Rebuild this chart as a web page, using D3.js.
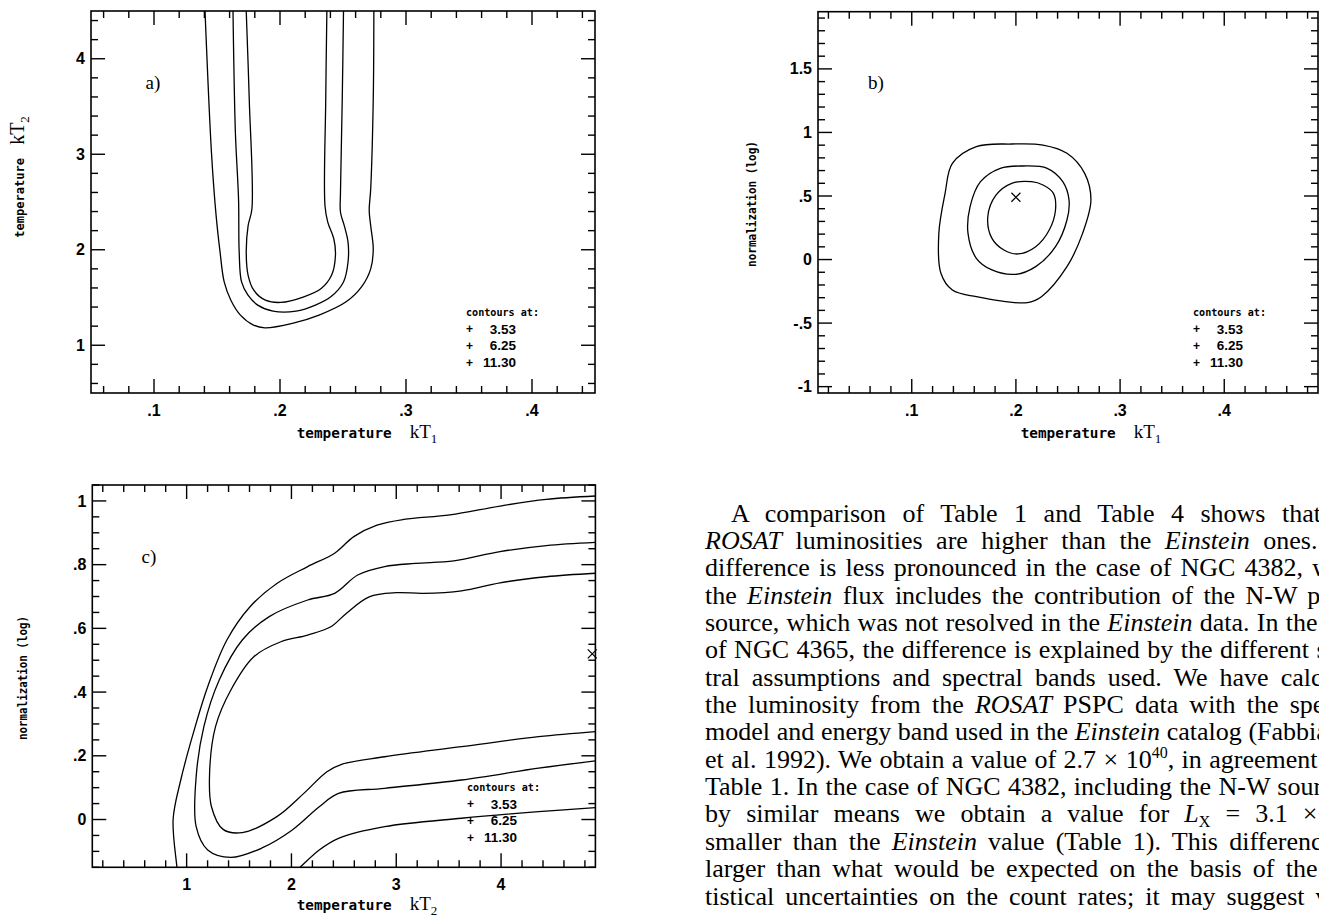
<!DOCTYPE html>
<html>
<head>
<meta charset="utf-8">
<script src="https://cdn.jsdelivr.net/npm/d3@7"></script>
<style>
  body { margin: 0; background: #fff; }
  svg { display: block; }
  .tick-label { font-family: "Liberation Sans", Arial, sans-serif; fill: #000; }
  .mono { font-family: "DejaVu Sans Mono", monospace; font-weight: bold; }
  .serif { font-family: "Liberation Serif", "Times New Roman", serif; }
  .para { font-family: "Liberation Serif", "Times New Roman", serif; font-size: 26px; fill: #000; }
</style>
</head>
<body>
<div id="chart"></div>
<script>
// ---- data ----
const levels = ['3.53', '6.25', '11.30']

// a) kT1 vs kT2
const aXTicks = [0.1, 0.2, 0.3, 0.4]
const aXLabels = ['.1', '.2', '.3', '.4']
const aYTicks = [1, 2, 3, 4]
const aYLabels = ['1', '2', '3', '4']
const aContour1130 = [[0.1405,4.5],[0.1456,3.02],[0.1493,2.357],[0.1524,1.98],[0.1557,1.663],[0.161,1.472],[0.1686,1.316],[0.179,1.211],[0.188,1.182],[0.2098,1.229],[0.231,1.316],[0.2525,1.455],[0.2647,1.611],[0.272,1.80],[0.274,2.01],[0.272,2.25],[0.2708,2.41],[0.272,2.64],[0.274,3.57],[0.2745,4.5]]
const aContour625 = [[0.1627,4.5],[0.1646,3.226],[0.1671,2.53],[0.1676,1.976],[0.1695,1.663],[0.1746,1.524],[0.1823,1.42],[0.1945,1.357],[0.2127,1.357],[0.2281,1.42],[0.2403,1.507],[0.2504,1.663],[0.254,1.872],[0.254,2.08],[0.251,2.253],[0.248,2.393],[0.248,2.601],[0.2494,3.573],[0.2504,4.5]]
const aContour353 = [[0.1732,4.5],[0.1756,3.573],[0.1777,2.427],[0.1747,2.253],[0.1732,1.976],[0.1747,1.732],[0.1792,1.576],[0.1884,1.472],[0.2006,1.448],[0.2189,1.507],[0.2327,1.594],[0.2409,1.732],[0.244,1.94],[0.2427,2.115],[0.2379,2.289],[0.2357,2.461],[0.2363,3.573],[0.2372,4.5]]

// b) kT1 vs normalization
const bXTicks = [0.1, 0.2, 0.3, 0.4]
const bXLabels = ['.1', '.2', '.3', '.4']
const bYTicks = [-1, -0.5, 0, 0.5, 1, 1.5]
const bYLabels = ['-1', '-.5', '0', '.5', '1', '1.5']
const bContour1130 = [[0.196,0.909],[0.162,0.889],[0.139,0.757],[0.132,0.521],[0.126,0.206],[0.128,-0.108],[0.139,-0.24],[0.162,-0.292],[0.211,-0.339],[0.2245,-0.292],[0.249,-0.056],[0.264,0.206],[0.272,0.468],[0.266,0.678],[0.249,0.836],[0.226,0.901]]
const bContour625 = [[0.207,0.736],[0.185,0.718],[0.166,0.6125],[0.156,0.416],[0.154,0.206],[0.162,0.01],[0.177,-0.082],[0.200,-0.116],[0.219,-0.056],[0.238,0.101],[0.249,0.311],[0.251,0.468],[0.245,0.6125],[0.230,0.718]]
const bContour353 = [[0.215,0.6125],[0.196,0.600],[0.181,0.508],[0.173,0.337],[0.177,0.167],[0.1885,0.075],[0.202,0.044],[0.219,0.101],[0.232,0.2325],[0.238,0.39],[0.236,0.521],[0.226,0.5865]]
const bBest = [0.2, 0.49]

// c) kT2 vs normalization
const cXTicks = [1, 2, 3, 4]
const cXLabels = ['1', '2', '3', '4']
const cYTicks = [0, 0.2, 0.4, 0.6, 0.8, 1]
const cYLabels = ['0', '.2', '.4', '.6', '.8', '1']
const cContour1130Upper = [[0.91,-0.17],[0.907,-0.15],[0.871,0.0],[0.944,0.124],[1.054,0.26],[1.201,0.417],[1.384,0.5635],[1.605,0.668],[1.861,0.741],[2.155,0.794],[2.412,0.836],[2.595,0.888],[2.816,0.924],[3.072,0.942],[3.513,0.956],[3.99,0.984],[4.431,1.005],[4.9,1.0155]]
const cContour1130Lower = [[2.02,-0.168],[2.082,-0.15],[2.265,-0.0956],[2.449,-0.059],[2.889,-0.0225],[3.623,0.004],[4.358,0.0246],[4.9,0.037]]
const cContour625 = [[4.9,0.184],[4.358,0.161],[3.623,0.124],[2.889,0.098],[2.449,0.082],[2.265,0.040],[2.008,-0.033],[1.715,-0.090],[1.422,-0.119],[1.201,-0.0956],[1.091,-0.0225],[1.091,0.1345],[1.164,0.291],[1.311,0.438],[1.531,0.5635],[1.788,0.637],[2.155,0.689],[2.412,0.710],[2.632,0.7675],[2.889,0.794],[3.183,0.804],[3.549,0.812],[3.99,0.841],[4.431,0.86],[4.9,0.87]]
const cContour353 = [[4.9,0.276],[4.358,0.26],[3.623,0.2286],[2.889,0.197],[2.485,0.174],[2.339,0.15],[2.118,0.082],[1.861,0.009],[1.531,-0.041],[1.348,-0.031],[1.237,0.04],[1.219,0.145],[1.275,0.291],[1.422,0.4066],[1.641,0.511],[1.899,0.558],[2.155,0.579],[2.376,0.605],[2.523,0.647],[2.742,0.699],[3.0,0.712],[3.257,0.710],[3.623,0.718],[3.99,0.743],[4.431,0.762],[4.9,0.773]]
const cBest = [4.87, 0.52]

// paragraph beside panel c
const paraLines = [
  [['A comparison of Table 1 and Table 4 shows that']],
  [['ROSAT', 'i'], [' luminosities are higher than the '], ['Einstein', 'i'], [' ones. The']],
  [['difference is less pronounced in the case of NGC 4382, where']],
  [['the '], ['Einstein', 'i'], [' flux includes the contribution of the N-W point']],
  [['source, which was not resolved in the '], ['Einstein', 'i'], [' data. In the case']],
  [['of NGC 4365, the difference is explained by the different spec-']],
  [['tral assumptions and spectral bands used. We have calculated']],
  [['the luminosity from the '], ['ROSAT', 'i'], [' PSPC data with the spectral']],
  [['model and energy band used in the '], ['Einstein', 'i'], [' catalog (Fabbiano']],
  [['et al. 1992). We obtain a value of 2.7 × 10'], ['40', 'sup'], [', in agreement with']],
  [['Table 1. In the case of NGC 4382, including the N-W source,']],
  [['by similar means we obtain a value for '], ['L', 'i'], ['X', 'sub'], [' = 3.1 × 10'], ['40', 'sup'], [',']],
  [['smaller than the '], ['Einstein', 'i'], [' value (Table 1). This difference']],
  [['larger than what would be expected on the basis of the sta-']],
  [['tistical uncertainties on the count rates; it may suggest vari-']]
]

// ---- layout ----
const W = 1319, H = 917
const paraLeft = 705, paraIndent = 731, paraTop = 521.5, paraLead = 27.36
// where the next-to-last word of each line ends (justified column)
const paraAnchorX = [1265.5, 1317.5, 1303, 1297, 1317.5, 1309, 1268.6, 1278.5, 1241.7, 1317.5, 1270, 1317.5, 1218, 1317.5, 1304.5]

const panels = [
  {
    id: 'a', left: 91, top: 11, right: 595, bottom: 393,
    xDomain: [0.05, 0.45], yDomain: [0.5, 4.5], xMinor: 0.02, yMinor: 0.2,
    xTicks: aXTicks, xLabels: aXLabels, yTicks: aYTicks, yLabels: aYLabels,
    contours: [aContour1130, aContour625, aContour353], closed: false,
    tag: 'a)', tagPos: [153, 89],
    xTitle: ['temperature', 'kT', '1'], xTitlePos: [367, 438], xTitleLen: 95,
    yTitle: ['temperature', 'kT', '2'], yTitlePos: [24, 177], yTitleLen: 80,
    legendPos: [466, 312, 516]
  },
  {
    id: 'b', left: 818, top: 11.7, right: 1318, bottom: 393,
    xDomain: [0.01, 0.49], yDomain: [-1.05, 1.95], xMinor: 0.02, yMinor: 0.1,
    xTicks: bXTicks, xLabels: bXLabels, yTicks: bYTicks, yLabels: bYLabels,
    contours: [bContour1130, bContour625, bContour353], closed: true,
    best: bBest,
    tag: 'b)', tagPos: [876, 89],
    xTitle: ['temperature', 'kT', '1'], xTitlePos: [1091, 438], xTitleLen: 95,
    yTitle: ['normalization (log)'], yTitlePos: [756, 204], yTitleLen: 126,
    legendPos: [1193, 312, 1243]
  },
  {
    id: 'c', left: 92.3, top: 485, right: 595.4, bottom: 867.3,
    xDomain: [0.1, 4.9], yDomain: [-0.15, 1.05], xMinor: 0.2, yMinor: 0.05,
    xTicks: cXTicks, xLabels: cXLabels, yTicks: cYTicks, yLabels: cYLabels,
    contours: [cContour1130Upper, cContour1130Lower, cContour625, cContour353], closed: false,
    best: cBest,
    tag: 'c)', tagPos: [149, 563],
    xTitle: ['temperature', 'kT', '2'], xTitlePos: [367, 910], xTitleLen: 95,
    yTitle: ['normalization (log)'], yTitlePos: [27, 678], yTitleLen: 124,
    legendPos: [467, 787, 517]
  }
]

const svg = d3.select('#chart').append('svg')
  .attr('width', W)
  .attr('height', H)
  .attr('viewBox', `0 0 ${W} ${H}`)

svg.append('rect').attr('width', W).attr('height', H).attr('fill', '#fff')

function stepValues(domain, step) {
  const lo = Math.ceil(domain[0] / step - 1e-6)
  const hi = Math.floor(domain[1] / step + 1e-6)
  return d3.range(lo, hi + 1).map(k => +(k * step).toFixed(6))
}

function drawTitle(g, parts, len, big) {
  const t = g.append('text').attr('text-anchor', 'middle')
  t.append('tspan').attr('class', 'mono')
    .style('font-size', (big ? 14 : 13) + 'px')
    .attr('textLength', len)
    .attr('lengthAdjust', 'spacingAndGlyphs')
    .text(parts[0])
  if (parts.length > 1) {
    t.append('tspan').attr('class', 'serif')
      .style('font-size', (big ? 19 : 20) + 'px').attr('dx', big ? 18 : 13)
      .text(parts[1])
    t.append('tspan').attr('class', 'serif')
      .style('font-size', '13px').attr('dy', 5)
      .text(parts[2])
  }
  return t
}

function drawPanel(p) {
  const x = d3.scaleLinear().domain(p.xDomain).range([p.left, p.right])
  const y = d3.scaleLinear().domain(p.yDomain).range([p.bottom, p.top])
  const g = svg.append('g').attr('class', `panel-${p.id}`)

  svg.append('clipPath').attr('id', `clip-${p.id}`)
    .append('rect')
    .attr('x', p.left).attr('y', p.top)
    .attr('width', p.right - p.left).attr('height', p.bottom - p.top)

  const isMajor = (v, ticks) => ticks.some(t => Math.abs(t - v) < 1e-6)

  // ticks on all four sides, pointing inwards
  const xs = stepValues(p.xDomain, p.xMinor)
  const ys = stepValues(p.yDomain, p.yMinor)
  const major = 14, minor = 7
  const tickG = g.append('g').attr('stroke', '#000').attr('stroke-width', 1.4)
  tickG.selectAll('.xb').data(xs).join('line')
    .attr('x1', d => x(d)).attr('x2', d => x(d))
    .attr('y1', p.bottom).attr('y2', d => p.bottom - (isMajor(d, p.xTicks) ? major : minor))
  tickG.selectAll('.xt').data(xs).join('line')
    .attr('x1', d => x(d)).attr('x2', d => x(d))
    .attr('y1', p.top).attr('y2', d => p.top + (isMajor(d, p.xTicks) ? major : minor))
  tickG.selectAll('.yl').data(ys).join('line')
    .attr('y1', d => y(d)).attr('y2', d => y(d))
    .attr('x1', p.left).attr('x2', d => p.left + (isMajor(d, p.yTicks) ? major : minor))
  tickG.selectAll('.yr').data(ys).join('line')
    .attr('y1', d => y(d)).attr('y2', d => y(d))
    .attr('x1', p.right).attr('x2', d => p.right - (isMajor(d, p.yTicks) ? major : minor))

  // frame
  g.append('rect')
    .attr('x', p.left).attr('y', p.top)
    .attr('width', p.right - p.left).attr('height', p.bottom - p.top)
    .attr('fill', 'none').attr('stroke', '#000').attr('stroke-width', 1.6)

  // tick labels
  g.selectAll('.xlab').data(p.xTicks).join('text')
    .attr('class', 'tick-label')
    .style('font-size', '16px').style('font-weight', 'bold')
    .attr('x', d => x(d)).attr('y', p.bottom + 17)
    .attr('dy', '0.35em').attr('text-anchor', 'middle')
    .text((d, i) => p.xLabels[i])
  g.selectAll('.ylab').data(p.yTicks).join('text')
    .attr('class', 'tick-label')
    .style('font-size', '16px').style('font-weight', 'bold')
    .attr('x', p.left - 6).attr('y', d => y(d))
    .attr('dy', '0.35em').attr('text-anchor', 'end')
    .text((d, i) => p.yLabels[i])

  // contours
  const line = d3.line()
    .x(d => x(d[0])).y(d => y(d[1]))
    .curve(p.closed ? d3.curveCatmullRomClosed.alpha(0.5) : d3.curveCatmullRom.alpha(0.5))
  g.append('g').attr('clip-path', `url(#clip-${p.id})`)
    .selectAll('path').data(p.contours).join('path')
    .attr('d', line)
    .attr('fill', 'none').attr('stroke', '#000').attr('stroke-width', 1.3)

  // best fit marker
  if (p.best) {
    const bx = x(p.best[0]), by = y(p.best[1]), s = 4.5
    g.append('path')
      .attr('d', `M${bx - s},${by - s}L${bx + s},${by + s}M${bx - s},${by + s}L${bx + s},${by - s}`)
      .attr('stroke', '#000').attr('stroke-width', 1.2)
  }

  // panel tag
  g.append('text').attr('class', 'serif')
    .attr('x', p.tagPos[0]).attr('y', p.tagPos[1])
    .attr('text-anchor', 'middle').style('font-size', '19px')
    .text(p.tag)

  // axis titles
  drawTitle(g, p.xTitle, p.xTitleLen, true)
    .attr('x', p.xTitlePos[0]).attr('y', p.xTitlePos[1])
  drawTitle(g, p.yTitle, p.yTitleLen, false)
    .attr('transform', `translate(${p.yTitlePos[0]},${p.yTitlePos[1]}) rotate(-90)`)

  // legend
  const [lx, ly, lr] = p.legendPos
  const leg = g.append('g')
  leg.append('text').attr('class', 'mono')
    .attr('x', lx).attr('y', ly).attr('dy', '0.35em')
    .style('font-size', '11px')
    .attr('textLength', 73).attr('lengthAdjust', 'spacingAndGlyphs')
    .text('contours at:')
  leg.selectAll('.plus').data(levels).join('text')
    .attr('class', 'tick-label')
    .attr('x', lx).attr('y', (d, i) => ly + 16.8 * (i + 1)).attr('dy', '0.35em')
    .style('font-size', '12px').style('font-weight', 'bold')
    .text('+')
  leg.selectAll('.lev').data(levels).join('text')
    .attr('class', 'tick-label')
    .attr('x', lr).attr('y', (d, i) => ly + 16.8 * (i + 1)).attr('dy', '0.35em')
    .attr('text-anchor', 'end')
    .style('font-size', '13.5px').style('font-weight', 'bold')
    .text(d => d)
}

panels.forEach(drawPanel)

// ---- paragraph ----
const para = svg.append('g')
const paraText = para.selectAll('text').data(paraLines).join('text')
  .attr('class', 'para')
  .attr('x', (d, i) => i === 0 ? paraIndent : paraLeft)
  .attr('y', (d, i) => paraTop + i * paraLead)

paraText.each(function (segs) {
  const t = d3.select(this)
  let shift = 0
  segs.forEach(([txt, style]) => {
    const target = style === 'sup' ? -10 : style === 'sub' ? 5 : 0
    const ts = t.append('tspan').text(txt)
    if (target !== shift) ts.attr('dy', target - shift)
    shift = target
    if (style === 'i') ts.attr('font-style', 'italic')
    if (style === 'sup' || style === 'sub') ts.style('font-size', '16px')
  })
})

// justify: stretch word spaces so the next-to-last word ends at the column edge
paraText.each(function (segs, i) {
  const s = this.textContent
  const k = s.lastIndexOf(' ')
  const endX = this.getEndPositionOfChar(k - 1).x
  const spaces = s.slice(0, k).split(' ').length - 1
  const ws = (paraAnchorX[i] - endX) / spaces
  d3.select(this).style('word-spacing', ws + 'px')
})
</script>
</body>
</html>
